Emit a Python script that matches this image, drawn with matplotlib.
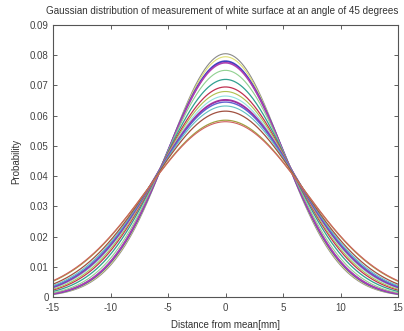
import numpy as np
import matplotlib
matplotlib.use("Agg")
import matplotlib.pyplot as plt

# Peak probability of each fitted curve (one per measurement)
peaks = [0.0805, 0.0795, 0.0780, 0.0775, 0.0750, 0.0720, 0.0695, 0.0680,
         0.0665, 0.0652, 0.0645, 0.0632, 0.0615, 0.0585, 0.0580]
colors = ["#8a8a8a", "#e0e070", "#4040c0", "#b040b0", "#90d090", "#30a090",
          "#c03050", "#b0c050", "#90e0e0", "#a030a0", "#6060d0", "#60c0c0",
          "#a05040", "#a0a040", "#d06060"]
widths = [0.8, 0.8, 1.4, 1.2, 0.8, 0.9, 0.9, 0.8, 0.8, 1.4, 1.0, 0.8, 0.9, 0.9, 0.8]

x = np.linspace(-15, 15, 301)

plt.rcParams["font.family"] = "Liberation Sans"
plt.rcParams["axes.unicode_minus"] = False
fig = plt.figure(figsize=(4.04, 3.31), dpi=100)
ax = fig.add_axes([53/404, 1 - 297/331, 345/404, 272/331])

for p, c, w in zip(peaks, colors, widths):
    sigma = 1 / (p * np.sqrt(2 * np.pi))
    y = p * np.exp(-x**2 / (2 * sigma**2))
    ax.plot(x, y, color=c, lw=w)

ax.set_xlim(-15, 15)
ax.set_ylim(0, 0.09)
ax.set_xticks(np.arange(-15, 16, 5))
ax.set_yticks(np.arange(0, 0.091, 0.01))
ax.set_yticklabels(["0"] + ["%.2f" % v for v in np.arange(0.01, 0.091, 0.01)])
ax.tick_params(direction="in", top=True, right=True, length=3, width=0.6,
               labelsize=7, colors="#444444")
ax.tick_params(axis="x", pad=4)
ax.tick_params(axis="y", pad=3)
for s in ax.spines.values():
    s.set_color("#555555")
    s.set_linewidth(0.8)

ax.set_title("Gaussian distribution of measurement of white surface at an angle of 45 degrees",
             fontsize=7.1, color="#333333", pad=8, x=0.49)
ax.set_xlabel("Distance from mean[mm]", fontsize=7, color="#333333", labelpad=5)
ax.set_ylabel("Probability", fontsize=7, color="#333333", labelpad=6)

fig.savefig("out.png", dpi=100)
